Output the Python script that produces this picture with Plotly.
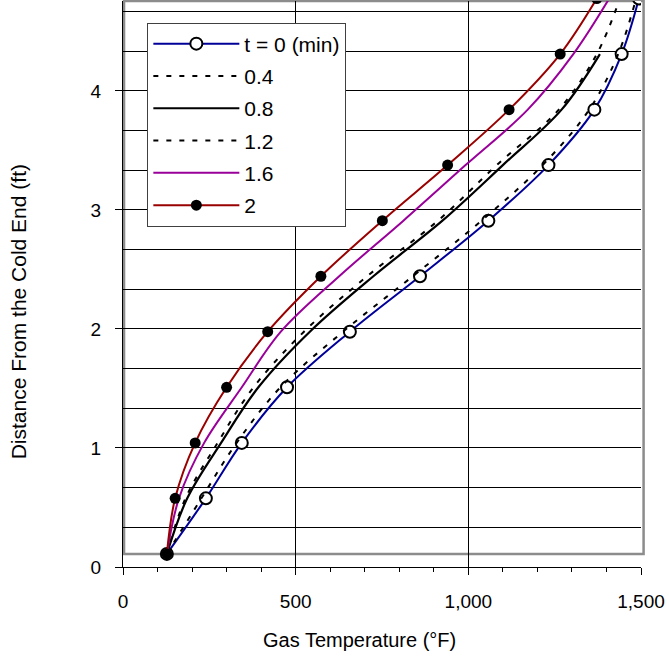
import plotly.graph_objects as go

# distance from the cold end (ft) of each node
dist_ft = [0.11, 0.577, 1.043, 1.51, 1.977, 2.443, 2.91, 3.377, 3.843, 4.31, 4.777]

# gas temperature (°F) along the bed at each time
temp_t0 = [127, 240, 344, 475, 657, 860, 1058, 1232, 1365, 1444, 1494]
temp_t04 = [127, 227, 329, 456, 637, 839, 1038, 1215, 1350, 1434, 1486]
temp_t08 = [127, 186, 284, 392, 541, 725, 925, 1100, 1270, 1381]
temp_t12 = [127, 181, 274, 378, 524, 707, 912, 1082, 1262, 1372, 1439]
temp_t16 = [127, 162, 235, 344, 457, 626, 812, 992, 1172, 1304, 1408]
temp_t2 = [127, 151, 209, 300, 419, 573, 751, 940, 1118, 1266, 1372]

FONT = "Liberation Sans, Arial, sans-serif"
DOTS = "5px,8px"

fig = go.Figure()

fig.add_trace(go.Scatter(
    x=temp_t0, y=dist_ft, name="t = 0 (min)", legendgroup="a",
    mode="lines+markers", line=dict(color="#000099", width=2, shape="spline"),
    marker=dict(symbol="circle", size=12, color="white", line=dict(color="black", width=2))
))
fig.add_trace(go.Scatter(
    x=temp_t04, y=dist_ft, name="0.4", legendgroup="b",
    mode="lines", line=dict(color="black", width=2, dash=DOTS, shape="spline")
))
fig.add_trace(go.Scatter(
    x=temp_t08, y=dist_ft[:len(temp_t08)], name="0.8", legendgroup="c",
    mode="lines", line=dict(color="black", width=2.2, shape="spline")
))
fig.add_trace(go.Scatter(
    x=temp_t12, y=dist_ft, name="1.2", legendgroup="d",
    mode="lines", line=dict(color="black", width=2, dash=DOTS, shape="spline")
))
fig.add_trace(go.Scatter(
    x=temp_t16, y=dist_ft, name="1.6", legendgroup="e",
    mode="lines", line=dict(color="#990099", width=2, shape="spline")
))
fig.add_trace(go.Scatter(
    x=temp_t2, y=dist_ft, name="2", legendgroup="f",
    mode="lines+markers", line=dict(color="#990000", width=2, shape="spline"),
    marker=dict(symbol="circle", size=11, color="black")
))

# grey plot-area frame (Excel style)
fig.add_shape(type="rect", xref="paper", yref="paper",
              x0=0.002, x1=1.005, y0=0.023, y1=1.0,
              line=dict(color="#8c8c8c", width=2.5), layer="between")

fig.add_annotation(text="Gas Temperature (°F)", xref="paper", yref="paper",
                   x=0.4575, y=-0.129, xanchor="center", yanchor="middle", showarrow=False,
                   font=dict(size=20, color="black", family=FONT))
fig.add_annotation(text="Distance From the Cold End (ft)", xref="paper", yref="paper",
                   x=-0.2027, y=0.45, xanchor="center", yanchor="middle", showarrow=False, textangle=-90,
                   font=dict(size=21, color="black", family=FONT))

fig.update_layout(
    width=669,
    height=660,
    margin=dict(l=123, r=28, t=1, b=93),
    paper_bgcolor="white",
    plot_bgcolor="white",
    font=dict(family=FONT, size=19, color="black"),
    xaxis=dict(
        range=[0, 1500],
        dtick=500,
        tickformat=",d",
        showgrid=True, gridcolor="black", gridwidth=1,
        zeroline=False,
        showline=True, linecolor="black", linewidth=1,
        ticks="outside", ticklen=7, tickcolor="black",
        ticklabelstandoff=10,
        minor=dict(dtick=100, ticks="outside", ticklen=4, tickcolor="black", showgrid=False),
    ),
    yaxis=dict(
        range=[0, 4.756],
        dtick=1,
        showgrid=True, gridcolor="black", gridwidth=1,
        zeroline=False,
        showline=True, linecolor="black", linewidth=1,
        ticks="outside", ticklen=7, tickcolor="black",
        ticklabelstandoff=10,
        minor=dict(dtick=1 / 3, ticks="", showgrid=True, gridcolor="black", gridwidth=1),
    ),
    legend=dict(
        x=0.047, y=0.962, xanchor="left", yanchor="top",
        bgcolor="white", bordercolor="#404040", borderwidth=1,
        traceorder="grouped", tracegroupgap=2, itemwidth=86,
        font=dict(size=21, family=FONT, color="black"),
    ),
    showlegend=True,
)

# page has a default 8px body margin; drop it so the figure sits at the window corner
fig.write_html("out.html", config={"displayModeBar": False},
               post_script="document.body.style.margin='0';")
